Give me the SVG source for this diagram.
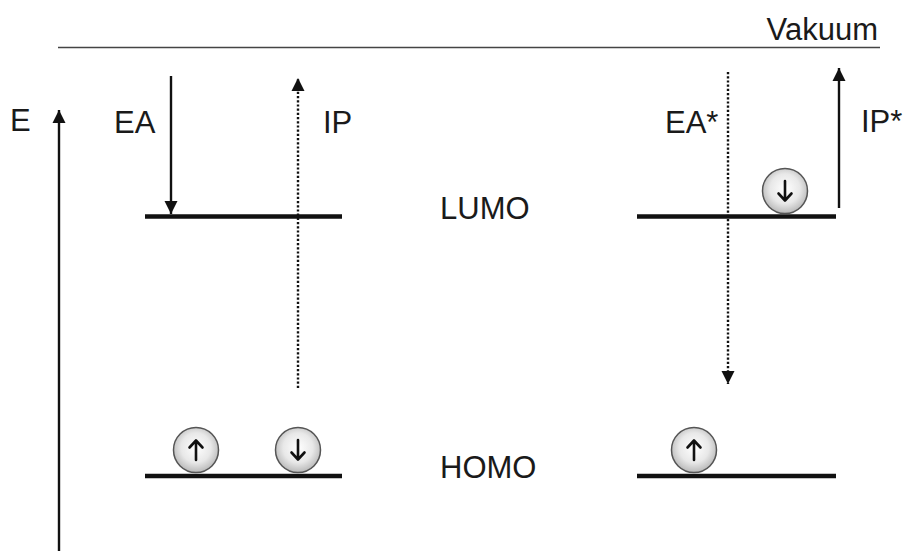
<svg xmlns="http://www.w3.org/2000/svg" width="904" height="551" viewBox="0 0 904 551">
<style>
.t{font-family:"Liberation Sans",Arial,sans-serif;font-size:31px;fill:#1a1a1a}
.lvl{stroke:#111;stroke-width:4.5;fill:none}
.sol{stroke:#111;stroke-width:2.4;fill:none}
.dot{stroke:#111;stroke-width:2.4;stroke-dasharray:2.2 2;fill:none}
.el{fill:url(#g);stroke:#555;stroke-width:1.5}
.sp{stroke:#111;stroke-width:2.6;fill:none;stroke-linecap:round;stroke-linejoin:round}
</style>
<defs>
<marker id="ah" viewBox="0 0 10 10" refX="10" refY="5" markerWidth="5.5" markerHeight="5.8" orient="auto" markerUnits="strokeWidth">
<path d="M0,0 L10,5 L0,10 z" fill="#111"/>
</marker>
<radialGradient id="g" cx="50%" cy="45%" r="55%">
<stop offset="0" stop-color="#ffffff"/>
<stop offset="0.6" stop-color="#e8e8e8"/>
<stop offset="1" stop-color="#b8b8b8"/>
</radialGradient>
<g id="up"><path class="sp" d="M0,10 V-9 M-6.5,-2.5 L0,-9.5 L6.5,-2.5"/></g>
<g id="down"><path class="sp" d="M0,-10 V9 M-6.5,2.5 L0,9.5 L6.5,2.5"/></g>
</defs>
<rect width="904" height="551" fill="#fff"/>
<g id="vakuum">
<line x1="58" y1="47.5" x2="880" y2="47.5" stroke="#444" stroke-width="1.5"/>
<text class="t" x="878" y="40" text-anchor="end" font-size="30">Vakuum</text>
</g>
<g id="levels">
<g id="lumo-left"><line class="lvl" x1="145" y1="216.5" x2="342" y2="216.5"/></g>
<g id="lumo-right"><line class="lvl" x1="637" y1="216.5" x2="836" y2="216.5"/></g>
<g id="homo-left"><line class="lvl" x1="145" y1="476" x2="342" y2="476"/></g>
<g id="homo-right"><line class="lvl" x1="637" y1="476" x2="836" y2="476"/></g>
<g id="lumo-label"><text class="t" x="440" y="219" font-size="30">LUMO</text></g>
<g id="homo-label"><text class="t" x="440" y="478" font-size="30">HOMO</text></g>
</g>
<g id="connectors">
<line class="sol" x1="59" y1="551" x2="59" y2="110" marker-end="url(#ah)"/>
<line class="sol" x1="171" y1="76" x2="171" y2="214" marker-end="url(#ah)"/>
<line class="dot" x1="298" y1="388" x2="298" y2="78" marker-end="url(#ah)"/>
<line class="dot" x1="728" y1="72" x2="728" y2="384" marker-end="url(#ah)"/>
<line class="sol" x1="839" y1="208" x2="839" y2="68" marker-end="url(#ah)"/>
</g>
<g id="labels">
<text class="t" x="10" y="131">E</text>
<text class="t" x="114" y="133">EA</text>
<text class="t" x="323" y="133">IP</text>
<text class="t" x="665" y="133">EA*</text>
<text class="t" x="861" y="132">IP*</text>
</g>
<g id="electron-lumo-right"><circle class="el" cx="785" cy="191" r="22.5"/><use href="#down" x="785" y="191"/></g>
<g id="electron-homo-left-1"><circle class="el" cx="196" cy="450" r="22.5"/><use href="#up" x="196" y="450"/></g>
<g id="electron-homo-left-2"><circle class="el" cx="298" cy="450" r="22.5"/><use href="#down" x="298" y="450"/></g>
<g id="electron-homo-right"><circle class="el" cx="694" cy="450" r="22.5"/><use href="#up" x="694" y="450"/></g>
</svg>
